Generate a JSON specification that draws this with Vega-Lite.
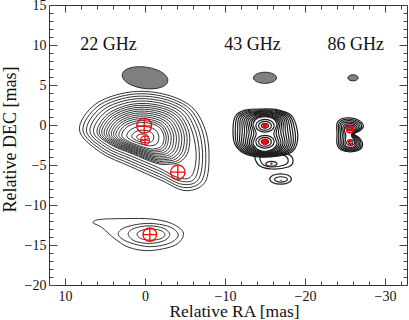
{
"$schema":"https://vega.github.io/schema/vega-lite/v6.json",
"width":358,"height":280,
"autosize":{"type":"none"},
"padding":{"left":49,"top":5,"right":2,"bottom":35},
"background":"white",
"config":{"view":{"stroke":"#333","strokeWidth":1},
 "axis":{"labelFont":"Liberation Serif","titleFont":"Liberation Serif","labelFontSize":14,"titleFontSize":18,"titleFontWeight":"normal","labelColor":"#111","titleColor":"#111","tickColor":"#444","tickWidth":1,"grid":false,"domain":false,"labelOverlap":false,"labelFlush":false}},
"datasets":{
"contours":[
{"c":"a0","x":8.2,"y":-0.6},{"c":"a0","x":6.2,"y":2.6},{"c":"a0","x":2.0,"y":4.1},{"c":"a0","x":-2.2,"y":3.9},{"c":"a0","x":-5.8,"y":2.3},{"c":"a0","x":-7.6,"y":-0.8},{"c":"a0","x":-8.0,"y":-4.4},{"c":"a0","x":-7.4,"y":-7.3},{"c":"a0","x":-5.0,"y":-8.2},{"c":"a0","x":-2.0,"y":-6.9},{"c":"a0","x":1.8,"y":-5.2},{"c":"a0","x":5.6,"y":-3.4},
{"c":"a1","x":7.76,"y":-0.66},{"c":"a1","x":5.88,"y":2.36},{"c":"a1","x":1.92,"y":3.8},{"c":"a1","x":-2.08,"y":3.62},{"c":"a1","x":-5.48,"y":2.12},{"c":"a1","x":-7.18,"y":-0.82},{"c":"a1","x":-7.6,"y":-4.3},{"c":"a1","x":-7.0,"y":-7.1},{"c":"a1","x":-4.8,"y":-7.8},{"c":"a1","x":-1.9,"y":-6.5},{"c":"a1","x":1.76,"y":-4.88},{"c":"a1","x":5.32,"y":-3.22},
{"c":"a2","x":7.32,"y":-0.72},{"c":"a2","x":5.56,"y":2.12},{"c":"a2","x":1.84,"y":3.5},{"c":"a2","x":-1.96,"y":3.34},{"c":"a2","x":-5.16,"y":1.94},{"c":"a2","x":-6.76,"y":-0.84},{"c":"a2","x":-7.2,"y":-4.2},{"c":"a2","x":-6.6,"y":-6.9},{"c":"a2","x":-4.6,"y":-7.4},{"c":"a2","x":-1.8,"y":-6.1},{"c":"a2","x":1.72,"y":-4.56},{"c":"a2","x":5.04,"y":-3.04},
{"c":"a3","x":6.88,"y":-0.78},{"c":"a3","x":5.24,"y":1.88},{"c":"a3","x":1.76,"y":3.2},{"c":"a3","x":-1.84,"y":3.06},{"c":"a3","x":-4.84,"y":1.76},{"c":"a3","x":-6.34,"y":-0.86},{"c":"a3","x":-6.8,"y":-4.1},{"c":"a3","x":-6.2,"y":-6.7},{"c":"a3","x":-4.4,"y":-7.0},{"c":"a3","x":-1.7,"y":-5.7},{"c":"a3","x":1.68,"y":-4.24},{"c":"a3","x":4.76,"y":-2.86},
{"c":"a4","x":6.44,"y":-0.84},{"c":"a4","x":4.92,"y":1.64},{"c":"a4","x":1.68,"y":2.9},{"c":"a4","x":-1.72,"y":2.78},{"c":"a4","x":-4.52,"y":1.58},{"c":"a4","x":-5.92,"y":-0.88},{"c":"a4","x":-6.4,"y":-4.0},{"c":"a4","x":-5.8,"y":-6.4},{"c":"a4","x":-4.2,"y":-6.6},{"c":"a4","x":-1.6,"y":-5.3},{"c":"a4","x":1.64,"y":-3.92},{"c":"a4","x":4.48,"y":-2.68},
{"c":"a5","x":6.0,"y":-0.9},{"c":"a5","x":4.6,"y":1.4},{"c":"a5","x":1.6,"y":2.6},{"c":"a5","x":-1.6,"y":2.5},{"c":"a5","x":-4.2,"y":1.4},{"c":"a5","x":-5.5,"y":-0.9},{"c":"a5","x":-5.4,"y":-3.3},{"c":"a5","x":-4.4,"y":-4.6},{"c":"a5","x":-3.0,"y":-4.9},{"c":"a5","x":-1.4,"y":-4.8},{"c":"a5","x":1.6,"y":-3.6},{"c":"a5","x":4.2,"y":-2.5},
{"c":"h5","x":5.71,"y":-0.94},{"c":"h5","x":4.38,"y":1.24},{"c":"h5","x":1.55,"y":2.37},{"c":"h5","x":-1.49,"y":2.27},{"c":"h5","x":-3.95,"y":1.23},{"c":"h5","x":-5.17,"y":-0.94},{"c":"h5","x":-5.08,"y":-3.2},{"c":"h5","x":-4.13,"y":-4.42},{"c":"h5","x":-2.81,"y":-4.71},{"c":"h5","x":-1.3,"y":-4.62},{"c":"h5","x":1.55,"y":-3.49},{"c":"h5","x":4.02,"y":-2.45},
{"c":"a6","x":5.41,"y":-0.98},{"c":"a6","x":4.16,"y":1.07},{"c":"a6","x":1.49,"y":2.13},{"c":"a6","x":-1.38,"y":2.04},{"c":"a6","x":-3.69,"y":1.06},{"c":"a6","x":-4.84,"y":-0.97},{"c":"a6","x":-4.75,"y":-3.09},{"c":"a6","x":-3.86,"y":-4.24},{"c":"a6","x":-2.62,"y":-4.51},{"c":"a6","x":-1.2,"y":-4.43},{"c":"a6","x":1.49,"y":-3.38},{"c":"a6","x":3.83,"y":-2.39},
{"c":"h6","x":5.11,"y":-1.02},{"c":"h6","x":3.94,"y":0.9},{"c":"h6","x":1.43,"y":1.9},{"c":"h6","x":-1.27,"y":1.81},{"c":"h6","x":-3.44,"y":0.9},{"c":"h6","x":-4.52,"y":-1.0},{"c":"h6","x":-4.43,"y":-2.99},{"c":"h6","x":-3.6,"y":-4.06},{"c":"h6","x":-2.43,"y":-4.32},{"c":"h6","x":-1.11,"y":-4.25},{"c":"h6","x":1.44,"y":-3.28},{"c":"h6","x":3.64,"y":-2.34},
{"c":"a7","x":4.81,"y":-1.05},{"c":"a7","x":3.72,"y":0.73},{"c":"a7","x":1.37,"y":1.67},{"c":"a7","x":-1.16,"y":1.58},{"c":"a7","x":-3.19,"y":0.73},{"c":"a7","x":-4.19,"y":-1.04},{"c":"a7","x":-4.1,"y":-2.88},{"c":"a7","x":-3.33,"y":-3.88},{"c":"a7","x":-2.24,"y":-4.13},{"c":"a7","x":-1.01,"y":-4.06},{"c":"a7","x":1.39,"y":-3.17},{"c":"a7","x":3.45,"y":-2.28},
{"c":"h7","x":4.52,"y":-1.09},{"c":"h7","x":3.5,"y":0.57},{"c":"h7","x":1.32,"y":1.44},{"c":"h7","x":-1.05,"y":1.36},{"c":"h7","x":-2.94,"y":0.56},{"c":"h7","x":-3.86,"y":-1.08},{"c":"h7","x":-3.78,"y":-2.78},{"c":"h7","x":-3.06,"y":-3.7},{"c":"h7","x":-2.05,"y":-3.94},{"c":"h7","x":-0.91,"y":-3.88},{"c":"h7","x":1.34,"y":-3.06},{"c":"h7","x":3.27,"y":-2.23},
{"c":"a8","x":4.22,"y":-1.13},{"c":"a8","x":3.28,"y":0.4},{"c":"a8","x":1.26,"y":1.2},{"c":"a8","x":-0.94,"y":1.13},{"c":"a8","x":-2.68,"y":0.39},{"c":"a8","x":-3.53,"y":-1.11},{"c":"a8","x":-3.45,"y":-2.67},{"c":"a8","x":-2.79,"y":-3.52},{"c":"a8","x":-1.86,"y":-3.74},{"c":"a8","x":-0.81,"y":-3.69},{"c":"a8","x":1.28,"y":-2.95},{"c":"a8","x":3.08,"y":-2.17},
{"c":"h8","x":3.93,"y":-1.17},{"c":"h8","x":3.06,"y":0.24},{"c":"h8","x":1.21,"y":0.97},{"c":"h8","x":-0.83,"y":0.9},{"c":"h8","x":-2.43,"y":0.22},{"c":"h8","x":-3.21,"y":-1.15},{"c":"h8","x":-3.13,"y":-2.57},{"c":"h8","x":-2.53,"y":-3.34},{"c":"h8","x":-1.68,"y":-3.55},{"c":"h8","x":-0.71,"y":-3.51},{"c":"h8","x":1.23,"y":-2.84},{"c":"h8","x":2.89,"y":-2.12},
{"c":"a9","x":3.63,"y":-1.2},{"c":"a9","x":2.84,"y":0.07},{"c":"a9","x":1.15,"y":0.74},{"c":"a9","x":-0.72,"y":0.67},{"c":"a9","x":-2.17,"y":0.05},{"c":"a9","x":-2.88,"y":-1.19},{"c":"a9","x":-2.8,"y":-2.46},{"c":"a9","x":-2.26,"y":-3.16},{"c":"a9","x":-1.49,"y":-3.35},{"c":"a9","x":-0.61,"y":-3.32},{"c":"a9","x":1.17,"y":-2.73},{"c":"a9","x":2.7,"y":-2.06},
{"c":"h9","x":3.27,"y":-1.24},{"c":"h9","x":2.57,"y":-0.1},{"c":"h9","x":1.03,"y":0.51},{"c":"h9","x":-0.67,"y":0.44},{"c":"h9","x":-1.98,"y":-0.12},{"c":"h9","x":-2.61,"y":-1.23},{"c":"h9","x":-2.54,"y":-2.36},{"c":"h9","x":-2.05,"y":-2.98},{"c":"h9","x":-1.36,"y":-3.16},{"c":"h9","x":-0.57,"y":-3.14},{"c":"h9","x":1.06,"y":-2.62},{"c":"h9","x":2.46,"y":-2.01},
{"c":"a10","x":2.91,"y":-1.28},{"c":"a10","x":2.29,"y":-0.27},{"c":"a10","x":0.91,"y":0.27},{"c":"a10","x":-0.61,"y":0.21},{"c":"a10","x":-1.78,"y":-0.29},{"c":"a10","x":-2.34,"y":-1.26},{"c":"a10","x":-2.28,"y":-2.25},{"c":"a10","x":-1.84,"y":-2.8},{"c":"a10","x":-1.23,"y":-2.96},{"c":"a10","x":-0.53,"y":-2.95},{"c":"a10","x":0.94,"y":-2.51},{"c":"a10","x":2.21,"y":-1.96},
{"c":"a11","x":2.29,"y":-1.35},{"c":"a11","x":1.82,"y":-0.6},{"c":"a11","x":0.77,"y":-0.2},{"c":"a11","x":-0.42,"y":-0.25},{"c":"a11","x":-1.31,"y":-0.62},{"c":"a11","x":-1.71,"y":-1.33},{"c":"a11","x":-1.66,"y":-2.04},{"c":"a11","x":-1.33,"y":-2.44},{"c":"a11","x":-0.88,"y":-2.58},{"c":"a11","x":-0.37,"y":-2.58},{"c":"a11","x":0.8,"y":-2.29},{"c":"a11","x":1.8,"y":-1.85},
{"c":"a12","x":1.66,"y":-1.43},{"c":"a12","x":1.35,"y":-0.94},{"c":"a12","x":0.62,"y":-0.66},{"c":"a12","x":-0.23,"y":-0.7},{"c":"a12","x":-0.83,"y":-0.96},{"c":"a12","x":-1.09,"y":-1.4},{"c":"a12","x":-1.04,"y":-1.83},{"c":"a12","x":-0.83,"y":-2.08},{"c":"a12","x":-0.53,"y":-2.19},{"c":"a12","x":-0.2,"y":-2.21},{"c":"a12","x":0.67,"y":-2.08},{"c":"a12","x":1.4,"y":-1.74},
{"c":"a13","x":1.05,"y":-1.5},{"c":"a13","x":0.89,"y":-1.27},{"c":"a13","x":0.49,"y":-1.13},{"c":"a13","x":-0.03,"y":-1.16},{"c":"a13","x":-0.34,"y":-1.3},{"c":"a13","x":-0.45,"y":-1.47},{"c":"a13","x":-0.41,"y":-1.62},{"c":"a13","x":-0.31,"y":-1.72},{"c":"a13","x":-0.17,"y":-1.8},{"c":"a13","x":-0.02,"y":-1.84},{"c":"a13","x":0.54,"y":-1.86},{"c":"a13","x":1.0,"y":-1.63},
{"c":"s0","x":6.5,"y":-12.2},{"c":"s0","x":5.6,"y":-11.8},{"c":"s0","x":2.5,"y":-11.7},{"c":"s0","x":-0.8,"y":-11.75},{"c":"s0","x":-3.3,"y":-12.3},{"c":"s0","x":-4.8,"y":-13.5},{"c":"s0","x":-3.8,"y":-15.0},{"c":"s0","x":-0.6,"y":-15.7},{"c":"s0","x":2.0,"y":-15.3},{"c":"s0","x":3.8,"y":-14.2},{"c":"s0","x":5.4,"y":-12.8},
{"c":"s1","x":3.35,"y":-13.55},{"c":"s1","x":2.25,"y":-12.72},{"c":"s1","x":-0.4,"y":-12.3},{"c":"s1","x":-3.05,"y":-12.72},{"c":"s1","x":-4.15,"y":-13.75},{"c":"s1","x":-3.05,"y":-14.78},{"c":"s1","x":-0.4,"y":-15.2},{"c":"s1","x":2.4,"y":-14.5},
{"c":"s2","x":2.1,"y":-13.6},{"c":"s2","x":1.34,"y":-12.92},{"c":"s2","x":-0.5,"y":-12.6},{"c":"s2","x":-2.34,"y":-12.92},{"c":"s2","x":-3.1,"y":-13.7},{"c":"s2","x":-2.34,"y":-14.48},{"c":"s2","x":-0.5,"y":-14.8},{"c":"s2","x":1.34,"y":-14.48},
{"c":"s3","x":1.0,"y":-13.65},{"c":"s3","x":0.49,"y":-13.2},{"c":"s3","x":-0.75,"y":-13.0},{"c":"s3","x":-1.99,"y":-13.2},{"c":"s3","x":-2.5,"y":-13.7},{"c":"s3","x":-1.99,"y":-14.2},{"c":"s3","x":-0.75,"y":-14.4},{"c":"s3","x":0.49,"y":-14.2},
{"c":"q0","x":-11.0,"y":-0.5},{"c":"q0","x":-11.3,"y":1.1},{"c":"q0","x":-12.5,"y":1.85},{"c":"q0","x":-14.5,"y":2.0},{"c":"q0","x":-16.6,"y":1.9},{"c":"q0","x":-18.3,"y":1.2},{"c":"q0","x":-19.0,"y":-0.5},{"c":"q0","x":-19.0,"y":-2.3},{"c":"q0","x":-18.3,"y":-3.4},{"c":"q0","x":-16.5,"y":-3.9},{"c":"q0","x":-14.2,"y":-4.0},{"c":"q0","x":-12.3,"y":-3.5},{"c":"q0","x":-11.2,"y":-2.3},
{"c":"q1","x":-11.29,"y":-0.56},{"c":"q1","x":-11.52,"y":1.0},{"c":"q1","x":-12.65,"y":1.745},{"c":"q1","x":-14.55,"y":1.905},{"c":"q1","x":-16.54,"y":1.79},{"c":"q1","x":-18.12,"y":1.09},{"c":"q1","x":-18.71,"y":-0.56},{"c":"q1","x":-18.75,"y":-2.3},{"c":"q1","x":-18.07,"y":-3.36},{"c":"q1","x":-16.38,"y":-3.835},{"c":"q1","x":-14.24,"y":-3.925},{"c":"q1","x":-12.47,"y":-3.45},{"c":"q1","x":-11.43,"y":-2.3},
{"c":"q2","x":-11.58,"y":-0.62},{"c":"q2","x":-11.74,"y":0.9},{"c":"q2","x":-12.8,"y":1.64},{"c":"q2","x":-14.6,"y":1.81},{"c":"q2","x":-16.48,"y":1.68},{"c":"q2","x":-17.94,"y":0.98},{"c":"q2","x":-18.42,"y":-0.62},{"c":"q2","x":-18.5,"y":-2.3},{"c":"q2","x":-17.84,"y":-3.32},{"c":"q2","x":-16.26,"y":-3.77},{"c":"q2","x":-14.28,"y":-3.85},{"c":"q2","x":-12.64,"y":-3.4},{"c":"q2","x":-11.66,"y":-2.3},
{"c":"q3","x":-11.87,"y":-0.68},{"c":"q3","x":-11.96,"y":0.8},{"c":"q3","x":-12.95,"y":1.535},{"c":"q3","x":-14.65,"y":1.715},{"c":"q3","x":-16.42,"y":1.57},{"c":"q3","x":-17.76,"y":0.87},{"c":"q3","x":-18.13,"y":-0.68},{"c":"q3","x":-18.25,"y":-2.3},{"c":"q3","x":-17.61,"y":-3.28},{"c":"q3","x":-16.14,"y":-3.705},{"c":"q3","x":-14.32,"y":-3.775},{"c":"q3","x":-12.81,"y":-3.35},{"c":"q3","x":-11.89,"y":-2.3},
{"c":"q4","x":-12.16,"y":-0.74},{"c":"q4","x":-12.18,"y":0.7},{"c":"q4","x":-13.1,"y":1.43},{"c":"q4","x":-14.7,"y":1.62},{"c":"q4","x":-16.36,"y":1.46},{"c":"q4","x":-17.58,"y":0.76},{"c":"q4","x":-17.84,"y":-0.74},{"c":"q4","x":-18.0,"y":-2.3},{"c":"q4","x":-17.38,"y":-3.24},{"c":"q4","x":-16.02,"y":-3.64},{"c":"q4","x":-14.36,"y":-3.7},{"c":"q4","x":-12.98,"y":-3.3},{"c":"q4","x":-12.12,"y":-2.3},
{"c":"q5","x":-12.45,"y":-0.8},{"c":"q5","x":-12.4,"y":0.6},{"c":"q5","x":-13.25,"y":1.325},{"c":"q5","x":-14.75,"y":1.525},{"c":"q5","x":-16.3,"y":1.35},{"c":"q5","x":-17.4,"y":0.65},{"c":"q5","x":-17.55,"y":-0.8},{"c":"q5","x":-17.75,"y":-2.3},{"c":"q5","x":-17.15,"y":-3.2},{"c":"q5","x":-15.9,"y":-3.575},{"c":"q5","x":-14.4,"y":-3.625},{"c":"q5","x":-13.15,"y":-3.25},{"c":"q5","x":-12.35,"y":-2.3},
{"c":"q6","x":-12.74,"y":-0.86},{"c":"q6","x":-12.62,"y":0.5},{"c":"q6","x":-13.4,"y":1.22},{"c":"q6","x":-14.8,"y":1.43},{"c":"q6","x":-16.24,"y":1.24},{"c":"q6","x":-17.22,"y":0.54},{"c":"q6","x":-17.26,"y":-0.86},{"c":"q6","x":-17.5,"y":-2.3},{"c":"q6","x":-16.92,"y":-3.16},{"c":"q6","x":-15.78,"y":-3.51},{"c":"q6","x":-14.44,"y":-3.55},{"c":"q6","x":-13.32,"y":-3.2},{"c":"q6","x":-12.58,"y":-2.3},
{"c":"q7","x":-13.03,"y":-0.92},{"c":"q7","x":-12.84,"y":0.4},{"c":"q7","x":-13.55,"y":1.115},{"c":"q7","x":-14.85,"y":1.335},{"c":"q7","x":-16.18,"y":1.13},{"c":"q7","x":-17.04,"y":0.43},{"c":"q7","x":-16.97,"y":-0.92},{"c":"q7","x":-17.25,"y":-2.3},{"c":"q7","x":-16.69,"y":-3.12},{"c":"q7","x":-15.66,"y":-3.445},{"c":"q7","x":-14.48,"y":-3.475},{"c":"q7","x":-13.49,"y":-3.15},{"c":"q7","x":-12.81,"y":-2.3},
{"c":"q8","x":-13.32,"y":-0.98},{"c":"q8","x":-13.06,"y":0.3},{"c":"q8","x":-13.7,"y":1.01},{"c":"q8","x":-14.9,"y":1.24},{"c":"q8","x":-16.12,"y":1.02},{"c":"q8","x":-16.86,"y":0.32},{"c":"q8","x":-16.68,"y":-0.98},{"c":"q8","x":-17.0,"y":-2.3},{"c":"q8","x":-16.46,"y":-3.08},{"c":"q8","x":-15.54,"y":-3.38},{"c":"q8","x":-14.52,"y":-3.4},{"c":"q8","x":-13.66,"y":-3.1},{"c":"q8","x":-13.04,"y":-2.3},
{"c":"q9","x":-13.61,"y":-1.04},{"c":"q9","x":-13.28,"y":0.2},{"c":"q9","x":-13.85,"y":0.905},{"c":"q9","x":-14.95,"y":1.145},{"c":"q9","x":-16.06,"y":0.91},{"c":"q9","x":-16.68,"y":0.21},{"c":"q9","x":-16.39,"y":-1.04},{"c":"q9","x":-16.75,"y":-2.3},{"c":"q9","x":-16.23,"y":-3.04},{"c":"q9","x":-15.42,"y":-3.315},{"c":"q9","x":-14.56,"y":-3.325},{"c":"q9","x":-13.83,"y":-3.05},{"c":"q9","x":-13.27,"y":-2.3},
{"c":"q10","x":-13.9,"y":-1.1},{"c":"q10","x":-13.5,"y":0.1},{"c":"q10","x":-14.0,"y":0.8},{"c":"q10","x":-15.0,"y":1.05},{"c":"q10","x":-16.0,"y":0.8},{"c":"q10","x":-16.5,"y":0.1},{"c":"q10","x":-16.1,"y":-1.1},{"c":"q10","x":-16.5,"y":-2.3},{"c":"q10","x":-16.0,"y":-3.0},{"c":"q10","x":-15.3,"y":-3.25},{"c":"q10","x":-14.6,"y":-3.25},{"c":"q10","x":-14.0,"y":-3.0},{"c":"q10","x":-13.5,"y":-2.3},
{"c":"u1","x":-13.85,"y":-0.1},{"c":"u1","x":-14.19,"y":0.47},{"c":"u1","x":-15.0,"y":0.7},{"c":"u1","x":-15.81,"y":0.47},{"c":"u1","x":-16.15,"y":-0.1},{"c":"u1","x":-15.81,"y":-0.67},{"c":"u1","x":-15.0,"y":-0.9},{"c":"u1","x":-14.19,"y":-0.67},
{"c":"u2","x":-14.2,"y":-0.1},{"c":"u2","x":-14.43,"y":0.29},{"c":"u2","x":-15.0,"y":0.45},{"c":"u2","x":-15.57,"y":0.29},{"c":"u2","x":-15.8,"y":-0.1},{"c":"u2","x":-15.57,"y":-0.49},{"c":"u2","x":-15.0,"y":-0.65},{"c":"u2","x":-14.43,"y":-0.49},
{"c":"u3","x":-14.55,"y":-0.1},{"c":"u3","x":-14.68,"y":0.11},{"c":"u3","x":-15.0,"y":0.2},{"c":"u3","x":-15.32,"y":0.11},{"c":"u3","x":-15.45,"y":-0.1},{"c":"u3","x":-15.32,"y":-0.31},{"c":"u3","x":-15.0,"y":-0.4},{"c":"u3","x":-14.68,"y":-0.31},
{"c":"l1","x":-13.85,"y":-2.1},{"c":"l1","x":-14.19,"y":-1.53},{"c":"l1","x":-15.0,"y":-1.3},{"c":"l1","x":-15.81,"y":-1.53},{"c":"l1","x":-16.15,"y":-2.1},{"c":"l1","x":-15.81,"y":-2.67},{"c":"l1","x":-15.0,"y":-2.9},{"c":"l1","x":-14.19,"y":-2.67},
{"c":"l2","x":-14.2,"y":-2.1},{"c":"l2","x":-14.43,"y":-1.71},{"c":"l2","x":-15.0,"y":-1.55},{"c":"l2","x":-15.57,"y":-1.71},{"c":"l2","x":-15.8,"y":-2.1},{"c":"l2","x":-15.57,"y":-2.49},{"c":"l2","x":-15.0,"y":-2.65},{"c":"l2","x":-14.43,"y":-2.49},
{"c":"l3","x":-14.55,"y":-2.1},{"c":"l3","x":-14.68,"y":-1.89},{"c":"l3","x":-15.0,"y":-1.8},{"c":"l3","x":-15.32,"y":-1.89},{"c":"l3","x":-15.45,"y":-2.1},{"c":"l3","x":-15.32,"y":-2.31},{"c":"l3","x":-15.0,"y":-2.4},{"c":"l3","x":-14.68,"y":-2.31},
{"c":"t1","x":-13.8,"y":-3.6},{"c":"t1","x":-14.2,"y":-5.0},{"c":"t1","x":-15.8,"y":-5.5},{"c":"t1","x":-17.9,"y":-5.25},{"c":"t1","x":-18.5,"y":-4.6},{"c":"t1","x":-18.0,"y":-3.7},{"c":"t1","x":-15.8,"y":-3.5},
{"c":"t2","x":-14.4,"y":-3.8},{"c":"t2","x":-14.7,"y":-4.9},{"c":"t2","x":-15.8,"y":-5.25},{"c":"t2","x":-17.4,"y":-5.0},{"c":"t2","x":-17.9,"y":-4.5},{"c":"t2","x":-17.4,"y":-3.8},{"c":"t2","x":-15.8,"y":-3.7},
{"c":"t3","x":-15.1,"y":-4.85},{"c":"t3","x":-15.3,"y":-4.64},{"c":"t3","x":-15.8,"y":-4.55},{"c":"t3","x":-16.3,"y":-4.64},{"c":"t3","x":-16.5,"y":-4.85},{"c":"t3","x":-16.3,"y":-5.06},{"c":"t3","x":-15.8,"y":-5.15},{"c":"t3","x":-15.3,"y":-5.06},
{"c":"m1","x":-15.6,"y":-6.75},{"c":"m1","x":-16.0,"y":-6.29},{"c":"m1","x":-16.95,"y":-6.1},{"c":"m1","x":-17.9,"y":-6.29},{"c":"m1","x":-18.3,"y":-6.75},{"c":"m1","x":-17.9,"y":-7.21},{"c":"m1","x":-16.95,"y":-7.4},{"c":"m1","x":-16.0,"y":-7.21},
{"c":"m2","x":-16.2,"y":-6.8},{"c":"m2","x":-16.43,"y":-6.57},{"c":"m2","x":-17.0,"y":-6.47},{"c":"m2","x":-17.57,"y":-6.57},{"c":"m2","x":-17.8,"y":-6.8},{"c":"m2","x":-17.57,"y":-7.03},{"c":"m2","x":-17.0,"y":-7.13},{"c":"m2","x":-16.43,"y":-7.03},
{"c":"r0","x":-24.0,"y":-1.2},{"c":"r0","x":-24.0,"y":0.2},{"c":"r0","x":-24.5,"y":0.75},{"c":"r0","x":-25.6,"y":0.9},{"c":"r0","x":-26.7,"y":0.6},{"c":"r0","x":-27.3,"y":-0.1},{"c":"r0","x":-26.9,"y":-0.7},{"c":"r0","x":-26.1,"y":-1.1},{"c":"r0","x":-26.8,"y":-1.6},{"c":"r0","x":-27.2,"y":-2.4},{"c":"r0","x":-26.8,"y":-3.1},{"c":"r0","x":-25.6,"y":-3.35},{"c":"r0","x":-24.5,"y":-3.1},{"c":"r0","x":-24.0,"y":-2.4},
{"c":"r1","x":-24.22,"y":-1.22},{"c":"r1","x":-24.18,"y":0.06},{"c":"r1","x":-24.62,"y":0.58},{"c":"r1","x":-25.6,"y":0.72},{"c":"r1","x":-26.58,"y":0.46},{"c":"r1","x":-27.1,"y":-0.16},{"c":"r1","x":-26.74,"y":-0.72},{"c":"r1","x":-26.04,"y":-1.14},{"c":"r1","x":-26.66,"y":-1.64},{"c":"r1","x":-27.02,"y":-2.38},{"c":"r1","x":-26.66,"y":-3.02},{"c":"r1","x":-25.62,"y":-3.24},{"c":"r1","x":-24.64,"y":-3.02},{"c":"r1","x":-24.2,"y":-2.38},
{"c":"r2","x":-24.44,"y":-1.24},{"c":"r2","x":-24.36,"y":-0.08},{"c":"r2","x":-24.74,"y":0.41},{"c":"r2","x":-25.6,"y":0.54},{"c":"r2","x":-26.46,"y":0.32},{"c":"r2","x":-26.9,"y":-0.22},{"c":"r2","x":-26.58,"y":-0.74},{"c":"r2","x":-25.98,"y":-1.18},{"c":"r2","x":-26.52,"y":-1.68},{"c":"r2","x":-26.84,"y":-2.36},{"c":"r2","x":-26.52,"y":-2.94},{"c":"r2","x":-25.64,"y":-3.13},{"c":"r2","x":-24.78,"y":-2.94},{"c":"r2","x":-24.4,"y":-2.36},
{"c":"r3","x":-24.66,"y":-1.26},{"c":"r3","x":-24.54,"y":-0.22},{"c":"r3","x":-24.86,"y":0.24},{"c":"r3","x":-25.6,"y":0.36},{"c":"r3","x":-26.34,"y":0.18},{"c":"r3","x":-26.7,"y":-0.28},{"c":"r3","x":-26.42,"y":-0.76},{"c":"r3","x":-25.92,"y":-1.22},{"c":"r3","x":-26.38,"y":-1.72},{"c":"r3","x":-26.66,"y":-2.34},{"c":"r3","x":-26.38,"y":-2.86},{"c":"r3","x":-25.66,"y":-3.02},{"c":"r3","x":-24.92,"y":-2.86},{"c":"r3","x":-24.6,"y":-2.34},
{"c":"r4","x":-24.88,"y":-1.28},{"c":"r4","x":-24.72,"y":-0.36},{"c":"r4","x":-24.98,"y":0.07},{"c":"r4","x":-25.6,"y":0.18},{"c":"r4","x":-26.22,"y":0.04},{"c":"r4","x":-26.5,"y":-0.34},{"c":"r4","x":-26.26,"y":-0.78},{"c":"r4","x":-25.86,"y":-1.26},{"c":"r4","x":-26.24,"y":-1.76},{"c":"r4","x":-26.48,"y":-2.32},{"c":"r4","x":-26.24,"y":-2.78},{"c":"r4","x":-25.68,"y":-2.91},{"c":"r4","x":-25.06,"y":-2.78},{"c":"r4","x":-24.8,"y":-2.32},
{"c":"r5","x":-25.1,"y":-1.3},{"c":"r5","x":-24.9,"y":-0.5},{"c":"r5","x":-25.1,"y":-0.1},{"c":"r5","x":-25.6,"y":0.0},{"c":"r5","x":-26.1,"y":-0.1},{"c":"r5","x":-26.3,"y":-0.4},{"c":"r5","x":-26.1,"y":-0.8},{"c":"r5","x":-25.8,"y":-1.3},{"c":"r5","x":-26.1,"y":-1.8},{"c":"r5","x":-26.3,"y":-2.3},{"c":"r5","x":-26.1,"y":-2.7},{"c":"r5","x":-25.7,"y":-2.8},{"c":"r5","x":-25.2,"y":-2.7},{"c":"r5","x":-25.0,"y":-2.3},
{"c":"p1","x":-25.1,"y":-0.4},{"c":"p1","x":-25.25,"y":-0.19},{"c":"p1","x":-25.6,"y":-0.1},{"c":"p1","x":-25.95,"y":-0.19},{"c":"p1","x":-26.1,"y":-0.4},{"c":"p1","x":-25.95,"y":-0.61},{"c":"p1","x":-25.6,"y":-0.7},{"c":"p1","x":-25.25,"y":-0.61},
{"c":"p2","x":-25.35,"y":-0.4},{"c":"p2","x":-25.42,"y":-0.29},{"c":"p2","x":-25.6,"y":-0.25},{"c":"p2","x":-25.78,"y":-0.29},{"c":"p2","x":-25.85,"y":-0.4},{"c":"p2","x":-25.78,"y":-0.51},{"c":"p2","x":-25.6,"y":-0.55},{"c":"p2","x":-25.42,"y":-0.51},
{"c":"p3","x":-25.2,"y":-2.2},{"c":"p3","x":-25.35,"y":-1.95},{"c":"p3","x":-25.7,"y":-1.85},{"c":"p3","x":-26.05,"y":-1.95},{"c":"p3","x":-26.2,"y":-2.2},{"c":"p3","x":-26.05,"y":-2.45},{"c":"p3","x":-25.7,"y":-2.55},{"c":"p3","x":-25.35,"y":-2.45},
{"c":"p4","x":-25.45,"y":-2.2},{"c":"p4","x":-25.52,"y":-2.08},{"c":"p4","x":-25.7,"y":-2.03},{"c":"p4","x":-25.88,"y":-2.08},{"c":"p4","x":-25.95,"y":-2.2},{"c":"p4","x":-25.88,"y":-2.32},{"c":"p4","x":-25.7,"y":-2.37},{"c":"p4","x":-25.52,"y":-2.32}
],
"beams":[
{"band":"22 GHz","x":0.0,"y":5.9,"bmaj":5.75},
{"band":"43 GHz","x":-15.0,"y":5.9,"bmaj":2.9},
{"band":"86 GHz","x":-26.0,"y":5.9,"bmaj":1.3}
],
"crosses":[
{"x":0.1,"y":-0.1,"d":1.85},
{"x":0.0,"y":-1.9,"d":1.1},
{"x":-4.1,"y":-5.9,"d":1.8},
{"x":-0.6,"y":-13.7,"d":1.7},
{"x":-15.0,"y":-2.1,"d":0.65},
{"x":-25.6,"y":-0.6,"d":0.8}
],
"dots":[
{"x":-15.0,"y":-0.1,"d":0.65},
{"x":-15.0,"y":-2.1,"d":0.55},
{"x":-15.8,"y":-4.85,"d":0.3},
{"x":-17.0,"y":-6.9,"d":0.2},
{"x":-26.0,"y":-0.3,"d":0.35},
{"x":-25.6,"y":-2.0,"d":0.45},
{"x":-25.8,"y":-2.5,"d":0.35}
],
"labels":[
{"label":"22 GHz","x":4.56,"y":9.375},
{"label":"43 GHz","x":-13.44,"y":9.375},
{"label":"86 GHz","x":-26.35,"y":9.375}
]
},
"layer":[
{"data":{"name":"contours"},
 "transform":[{"filter":"indexof('ash', substring(datum.c,0,1)) >= 0"}],
 "mark":{"type":"line","interpolate":"cardinal-closed","stroke":"#262626","strokeWidth":0.95},
 "encoding":{
  "x":{"field":"x","type":"quantitative","scale":{"domain":[-32.75,12],"reverse":true,"nice":false,"zero":false},
   "axis":{"orient":"bottom","values":[12,10,8,6,4,2,0,-2,-4,-6,-8,-10,-12,-14,-16,-18,-20,-22,-24,-26,-28,-30,-32],
    "tickSize":{"condition":{"test":"datum.value % 10 === 0","value":-7},"value":-4},
    "labelExpr":"datum.value % 10 === 0 ? datum.label : ''","labelBaseline":"alphabetic","labelPadding":22.5,
    "title":"Relative RA [mas]","titleFontSize":17.5,"titleX":185,"titleY":31.5,"titleBaseline":"alphabetic","titleAnchor":null}},
  "y":{"field":"y","type":"quantitative","scale":{"domain":[-20,15],"nice":false,"zero":false},
   "axis":{"orient":"left","values":[-20,-19,-18,-17,-16,-15,-14,-13,-12,-11,-10,-9,-8,-7,-6,-5,-4,-3,-2,-1,0,1,2,3,4,5,6,7,8,9,10,11,12,13,14,15],
    "tickSize":{"condition":{"test":"datum.value % 5 === 0","value":-8},"value":-4},
    "labelExpr":"datum.value % 5 === 0 ? datum.label : ''","labelBaseline":"middle","labelPadding":11,
    "title":"Relative DEC [mas]","titleX":-34,"titleY":134,"titleAngle":-90,"titleBaseline":"alphabetic","titleAlign":"center"}},
  "detail":{"field":"c","type":"nominal"},
  "order":{"value":null}
 }},
{"data":{"name":"contours"},
 "transform":[{"filter":"indexof('ash', substring(datum.c,0,1)) < 0"}],
 "mark":{"type":"line","interpolate":"cardinal-closed","stroke":"#1e1e1e","strokeWidth":1.2},
 "encoding":{
  "x":{"field":"x","type":"quantitative","scale":{"domain":[-32.75,12],"reverse":true,"nice":false,"zero":false},"axis":null},
  "y":{"field":"y","type":"quantitative","scale":{"domain":[-20,15],"nice":false,"zero":false},"axis":null},
  "detail":{"field":"c","type":"nominal"},
  "order":{"value":null}
 }},
{"data":{"name":"beams"},
 "mark":{"type":"point","filled":true,"fill":"#7f7f7f","stroke":"#111","strokeWidth":0.8,"opacity":1},
 "encoding":{
  "x":{"field":"x","type":"quantitative","scale":{"domain":[-32.75,12],"reverse":true,"nice":false,"zero":false},
   "axis":{"orient":"top","values":[12,10,8,6,4,2,0,-2,-4,-6,-8,-10,-12,-14,-16,-18,-20,-22,-24,-26,-28,-30,-32],
    "tickSize":{"condition":{"test":"datum.value % 10 === 0","value":-7},"value":-4},"labels":false,"title":null}},
  "y":{"field":"y","type":"quantitative","scale":{"domain":[-20,15],"nice":false,"zero":false},
   "axis":{"orient":"right","values":[-20,-19,-18,-17,-16,-15,-14,-13,-12,-11,-10,-9,-8,-7,-6,-5,-4,-3,-2,-1,0,1,2,3,4,5,6,7,8,9,10,11,12,13,14,15],
    "tickSize":{"condition":{"test":"datum.value % 5 === 0","value":-8},"value":-4},"labels":false,"title":null}},
  "size":{"field":"bmaj","type":"quantitative","scale":{"type":"pow","exponent":2,"domain":[0,1],"range":[0,64]},"legend":null},
  "shape":{"field":"band","type":"nominal","scale":{"domain":["22 GHz","43 GHz","86 GHz"],"range":["M-0.99,-0.14A1,0.46,8,1,0,0.99,0.14A1,0.46,8,1,0,-0.99,-0.14Z","M-1,0A1,0.48,0,1,0,1,0A1,0.48,0,1,0,-1,0Z","M-1,0A1,0.6,0,1,0,1,0A1,0.6,0,1,0,-1,0Z"]},"legend":null}
 }},
{"data":{"name":"crosses"},
 "mark":{"type":"point","filled":false,"shape":"M-1,0A1,1,0,1,0,1,0A1,1,0,1,0,-1,0ZM-1,0L1,0M0,-1L0,1","stroke":"#ff0000","strokeWidth":1.3,"opacity":1},
 "encoding":{
  "x":{"field":"x","type":"quantitative","scale":{"domain":[-32.75,12],"reverse":true,"nice":false,"zero":false},"axis":null},
  "y":{"field":"y","type":"quantitative","scale":{"domain":[-20,15],"nice":false,"zero":false},"axis":null},
  "size":{"field":"d","type":"quantitative","scale":{"type":"pow","exponent":2,"domain":[0,1],"range":[0,64]},"legend":null}
 }},
{"data":{"name":"dots"},
 "mark":{"type":"point","filled":true,"shape":"M-1,0A1,1,0,1,0,1,0A1,1,0,1,0,-1,0Z","fill":"#ff0000","strokeWidth":0,"opacity":1},
 "encoding":{
  "x":{"field":"x","type":"quantitative","scale":{"domain":[-32.75,12],"reverse":true,"nice":false,"zero":false},"axis":null},
  "y":{"field":"y","type":"quantitative","scale":{"domain":[-20,15],"nice":false,"zero":false},"axis":null},
  "size":{"field":"d","type":"quantitative","scale":{"type":"pow","exponent":2,"domain":[0,1],"range":[0,64]},"legend":null}
 }},
{"data":{"name":"labels"},
 "mark":{"type":"text","font":"Liberation Serif","fontSize":18,"align":"center","baseline":"alphabetic","color":"#111"},
 "encoding":{
  "x":{"field":"x","type":"quantitative","scale":{"domain":[-32.75,12],"reverse":true,"nice":false,"zero":false},"axis":null},
  "y":{"field":"y","type":"quantitative","scale":{"domain":[-20,15],"nice":false,"zero":false},"axis":null},
  "text":{"field":"label","type":"nominal"}
 }}
],
"resolve":{"axis":{"x":"independent","y":"independent"}}
}
